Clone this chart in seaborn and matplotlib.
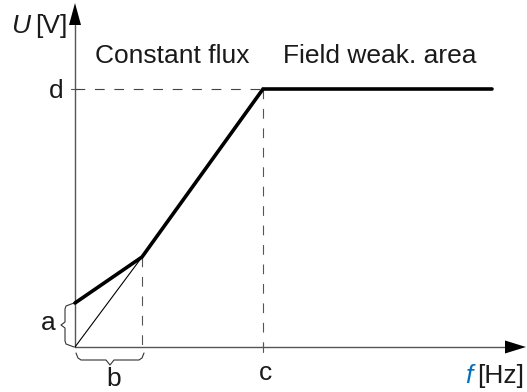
import matplotlib
matplotlib.use("Agg")
import matplotlib.pyplot as plt
import seaborn as sns
import pandas as pd

# ---- data (arbitrary units) ----
f_points = [0, 67, 188, 417]          # frequency: 0, b, c, end
U_points = [44, 90, 258, 258]         # voltage: a, knee, d, d
f_b, f_c = 67, 188
U_a, U_knee, U_d = 44, 90, 258
region_labels = ["Constant flux", "Field weak. area"]
tick_labels = {"a": U_a, "b": f_b, "c": f_c, "d": U_d}

sns.set_style("white")
plt.rcParams["font.family"] = ["Liberation Sans", "DejaVu Sans"]

fig = plt.figure(figsize=(5.27, 3.92), dpi=100)
ax = fig.add_axes([0, 0, 1, 1])
ax.set_xlim(-75, 452)
ax.set_ylim(-45, 347)
ax.axis("off")

df = pd.DataFrame({"f": f_points, "U": U_points})
sns.lineplot(data=df, x="f", y="U", ax=ax, color="black", linewidth=2.6,
             sort=False, estimator=None, solid_joinstyle="miter", zorder=5)

# thin line from origin to knee
sns.lineplot(x=[0, f_b], y=[0, U_knee], ax=ax, color="black", linewidth=0.8,
             estimator=None, zorder=4)

# dashed helper lines
lw_d = 0.8
dash = (0, (7.0 / lw_d, 7.0 / lw_d))
axis_gray = "#555555"
ax.plot([0, f_c], [U_d, U_d], color="#444444", lw=lw_d, linestyle=dash, zorder=3)
ax.plot([f_c, f_c], [U_d, 0], color="#555555", lw=lw_d, linestyle=dash, zorder=3)
ax.plot([f_b, f_b], [U_knee, 0], color="#555555", lw=lw_d, linestyle=dash, zorder=3)

# axes with arrows
ax.plot([0, 432], [0, 0], color=axis_gray, lw=1.0, zorder=2)
ax.plot([0, 0], [0, 322], color=axis_gray, lw=1.0, zorder=2)
ax.fill([430, 451, 430], [-6.5, 0, 6.5], color="black", lw=0, zorder=6)
ax.fill([-6, 0, 6], [322, 344, 322], color="black", lw=0, zorder=6)

# small ticks
ax.plot([f_c, f_c], [-5, 4], color=axis_gray, lw=0.8)
ax.plot([-4, 4], [U_d, U_d], color=axis_gray, lw=0.8)

# braces
bc = "#333333"
ax.plot([-1, -9, -10, -10, -14, -10, -10, -9, -1],
        [U_a, U_a - 3, U_a - 6, U_a - 19, U_a - 22, U_a - 25, U_a - 38, U_a - 41, U_a - 44],
        color=bc, lw=0.8)
ax.plot([1, 3, 6, 31, 35, 39, 64, 67, 69],
        [-6, -11, -13, -13, -18, -13, -13, -11, -6],
        color=bc, lw=0.8)

fs = 19
tc = "#1a1a1a"
ax.text(-64, 314, "U", fontsize=fs, style="italic", color=tc, ha="left", va="baseline")
ax.text(-40, 314, "[V]", fontsize=fs, color=tc, ha="left", va="baseline")
ax.text(390, -36, "f", fontsize=fs, style="italic", color="#0070C0", ha="left", va="baseline")
ax.text(402, -36, "[Hz]", fontsize=fs, color=tc, ha="left", va="baseline")
ax.text(20, 284, region_labels[0], fontsize=fs, color=tc, ha="left", va="baseline")
ax.text(208, 284, region_labels[1], fontsize=fs, color=tc, ha="left", va="baseline")
ax.text(-12, U_d - 9, "d", fontsize=fs, color=tc, ha="right", va="baseline")
ax.text(f_c + 3, -33, "c", fontsize=fs, color=tc, ha="center", va="baseline")
ax.text(-27, U_a - 27, "a", fontsize=fs, color=tc, ha="center", va="baseline")
ax.text(f_b / 2 + 5, -39, "b", fontsize=fs, color=tc, ha="center", va="baseline")

fig.savefig("out.png", dpi=100)
